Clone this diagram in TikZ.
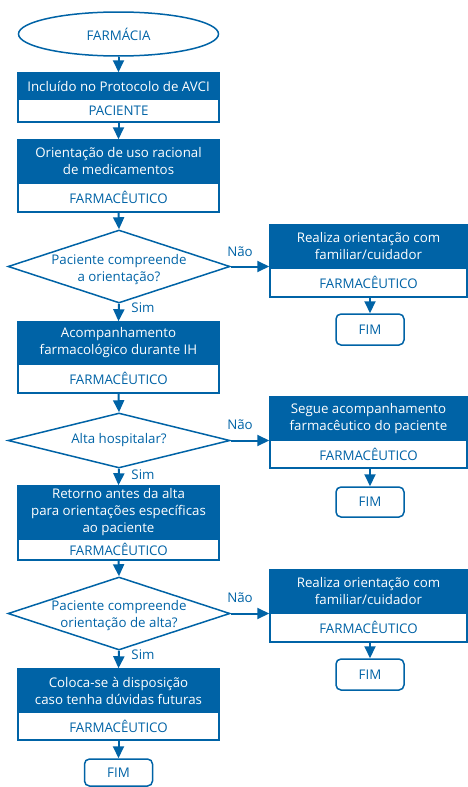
\documentclass[tikz,border=0pt]{standalone}
\usepackage{fontspec}
\setmainfont{Open Sans}
\usetikzlibrary{shapes.geometric,arrows.meta}
\definecolor{fblue}{RGB}{0,99,166}
\begin{document}
\begin{tikzpicture}[x=1pt,y=-1pt,
  font=\fontsize{13.3}{17}\selectfont,
  hd/.style={draw=fblue, fill=fblue, text=white, line width=1.5pt, inner sep=0pt, align=center},
  ft/.style={draw=fblue, fill=white, text=fblue, line width=1.5pt, inner sep=0pt, align=center},
  lw/.style={minimum width=201pt},
  rw/.style={minimum width=197pt},
  dia/.style={diamond, draw=fblue, line width=1.5pt, inner sep=0pt},
  dtxt/.style={text=fblue, align=center, inner sep=0pt},
  fim/.style={draw=fblue, fill=white, text=fblue, line width=1.5pt, rounded corners=5pt, minimum width=68pt, inner sep=0pt},
  lbl/.style={text=fblue, inner sep=0pt},
  conn/.style={draw=fblue, line width=2pt, -{Triangle[length=12pt,width=11pt]}}
]
\useasboundingbox (0,0) rectangle (468,787);

% start
\node[ellipse, draw=fblue, line width=1.5pt, text=fblue, minimum width=200pt, minimum height=44pt, inner sep=0pt] (e) at (118.5,34) {FARMÁCIA};

% left column boxes
\node[hd, lw, minimum height=26pt] (b1t) at (118.5,86) {Incluído no Protocolo de AVCI};
\node[ft, lw, minimum height=23pt] (b1b) at (118.5,110.5) {PACIENTE};

\node[hd, lw, minimum height=43pt] (b2t) at (118.5,161.5) {Orientação de uso racional\\de medicamentos};
\node[ft, lw, minimum height=29pt] (b2b) at (118.5,197.5) {FARMACÊUTICO};

\node[dia, minimum width=222pt, minimum height=73pt] (d1) at (119,266.5) {};
\node[dtxt] (d1t) at (119,270) {Paciente compreende\\a orientação?};

\node[hd, lw, minimum height=42pt] (b3t) at (118.5,343) {Acompanhamento\\farmacológico durante IH};
\node[ft, lw, minimum height=29pt] (b3b) at (118.5,378.5) {FARMACÊUTICO};

\node[dia, minimum width=222pt, minimum height=55pt] (d2) at (119,440.5) {};
\node[dtxt] (d2t) at (119,440) {Alta hospitalar?};

\node[hd, lw, minimum height=53pt] (b4t) at (118.5,512.5) {Retorno antes da alta\\para orientações específicas\\ao paciente};
\node[ft, lw, minimum height=21pt] (b4b) at (118.5,549.5) {FARMACÊUTICO};

\node[dia, minimum width=222pt, minimum height=73pt] (d3) at (119,613.5) {};
\node[dtxt] (d3t) at (119,616) {Paciente compreende\\orientação de alta?};

\node[hd, lw, minimum height=43pt] (b5t) at (118.5,690.5) {Coloca-se à disposição\\caso tenha dúvidas futuras};
\node[ft, lw, minimum height=28pt] (b5b) at (118.5,726) {FARMACÊUTICO};

\node[fim, minimum height=27pt] (f0) at (118.5,772.5) {FIM};

% right column
\node[hd, rw, minimum height=43pt] (r1t) at (368.5,246.5) {Realiza orientação com\\familiar/cuidador};
\node[ft, rw, minimum height=29pt] (r1b) at (368.5,282.5) {FARMACÊUTICO};
\node[fim, minimum height=31pt] (f1) at (370,329.5) {FIM};

\node[hd, rw, minimum height=43pt] (r2t) at (368.5,418.5) {Segue acompanhamento\\farmacêutico do paciente};
\node[ft, rw, minimum height=28pt] (r2b) at (368.5,454) {FARMACÊUTICO};
\node[fim, minimum height=30pt] (f2) at (370,502) {FIM};

\node[hd, rw, minimum height=43pt] (r3t) at (368.5,591.5) {Realiza orientação com\\familiar/cuidador};
\node[ft, rw, minimum height=29pt] (r3b) at (368.5,627.5) {FARMACÊUTICO};
\node[fim, minimum height=31pt] (f3) at (370,674.5) {FIM};

% connectors
\draw[conn] (e.south) -- (b1t.north);
\draw[conn] (b1b.south) -- (b2t.north);
\draw[conn] (b2b.south) -- (d1.north);
\draw[conn] (d1.south) -- (b3t.north);
\draw[conn] (b3b.south) -- (d2.north);
\draw[conn] (d2.south) -- (b4t.north);
\draw[conn] (b4b.south) -- (d3.north);
\draw[conn] (d3.south) -- (b5t.north);
\draw[conn] (b5b.south) -- (f0.north);

\draw[conn] (d1.east) -- (d1.east -| r1t.west);
\draw[conn] (d2.east) -- (d2.east -| r2t.west);
\draw[conn] (d3.east) -- (d3.east -| r3t.west);
\draw[conn] (r1b.south -| f1.north) -- (f1.north);
\draw[conn] (r2b.south -| f2.north) -- (f2.north);
\draw[conn] (r3b.south -| f3.north) -- (f3.north);

% labels
\node[lbl] (s1) at (143,308) {Sim};
\node[lbl] (s2) at (143,474.5) {Sim};
\node[lbl] (s3) at (143,655) {Sim};
\node[lbl] (n1) at (240,252) {Não};
\node[lbl] (n2) at (240,425) {Não};
\node[lbl] (n3) at (240,598) {Não};
\end{tikzpicture}
\end{document}
